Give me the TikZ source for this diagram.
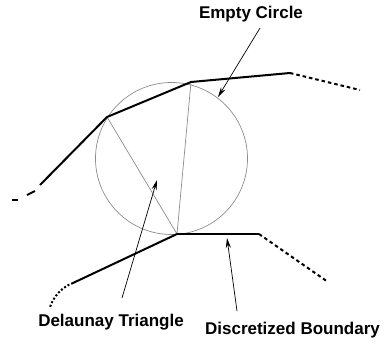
\documentclass[tikz,border=0pt]{standalone}
\usepackage{fontspec}
\setmainfont{Liberation Sans}
\usetikzlibrary{arrows.meta}
\begin{document}
\begin{tikzpicture}[x=1pt,y=-1pt,
  bnd/.style={line width=2pt,black},
  bndmid/.style={line width=1.5pt,black},
  dsh/.style={line width=2pt,black,dash pattern=on 3.5pt off 3pt},
  dotc/.style={line width=2pt,black,dash pattern=on 2pt off 2pt},
  tri/.style={line width=0.7pt,black!45},
  lbl/.style={font=\fontsize{17}{20}\selectfont\bfseries, anchor=base, inner sep=0pt},
  ptr/.style={line width=0.7pt,black,-{Stealth[length=10pt,width=5pt]}}]
\useasboundingbox (0,0) rectangle (389,346);
% vertices
\coordinate (A) at (107,117);
\coordinate (B) at (191,82);
\coordinate (C) at (177,234);
\coordinate (O) at (171.5,158.5);
% circle and triangle
\draw[tri] (O) circle[radius=76];
\draw[tri] (A) -- (C) -- (B);
% boundary
\coordinate (TR) at (290,73);
\coordinate (TRe) at (360,90);
\coordinate (L1) at (40,185);
\coordinate (BR) at (259,234);
\coordinate (BRe) at (328,282);
\coordinate (BL) at (73,283);
\coordinate (BLe) at (50,307);
\draw[bnd] (L1) -- (A) -- (B) -- (TR);
\draw[dsh] (TR) -- (TRe);
\draw[bnd] (27,195) -- (35,191);
\draw[bnd] (12,200) -- (18,200);
\draw[bndmid] (C) -- (BR);
\draw[dsh] (BR) -- (BRe);
\draw[bnd] (BL) -- (C);
\draw[dotc] (BL) .. controls (62,287) and (54,296) .. (BLe);
% labels
\node[lbl] (ec) at (251,18.5) {Empty Circle};
\node[lbl] (dt) at (111,326) {Delaunay Triangle};
\node[lbl] (db) at (292.5,334) {Discretized Boundary};
% pointers
\coordinate (ecs) at (260,28);
\coordinate (ect) at (218,97);
\coordinate (dts) at (122,298);
\coordinate (dtt) at (157,180);
\coordinate (dbs) at (237,311);
\coordinate (dbt) at (227,238);
\draw[ptr] (ecs) -- (ect);
\draw[ptr] (dts) -- (dtt);
\draw[ptr] (dbs) -- (dbt);
\end{tikzpicture}
\end{document}
